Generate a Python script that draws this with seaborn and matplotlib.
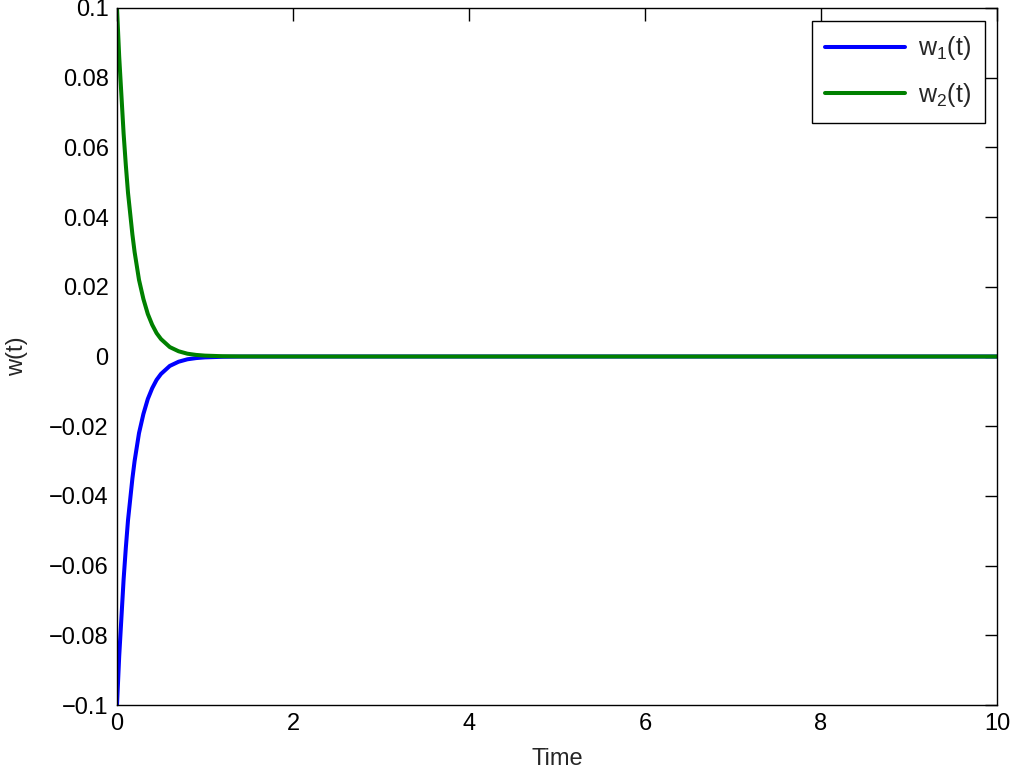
import matplotlib
matplotlib.use("Agg")
import matplotlib.pyplot as plt
import seaborn as sns
import pandas as pd
from matplotlib.ticker import FuncFormatter

# data
time = [0.0, 0.025, 0.05, 0.075, 0.1, 0.125, 0.15, 0.175, 0.2, 0.25, 0.3, 0.35, 0.4,
        0.45, 0.5, 0.6, 0.7, 0.8, 0.9, 1.0, 1.2, 1.4, 1.7, 2.0, 3.0, 5.0, 7.5, 10.0]
w2 = [0.1, 0.086, 0.075, 0.064, 0.055, 0.047, 0.041, 0.035, 0.030, 0.022, 0.0165,
      0.0122, 0.0091, 0.0067, 0.0050, 0.0027, 0.0015, 0.0008, 0.00045, 0.00025,
      0.00008, 0.00002, 0.0, 0.0, 0.0, 0.0, 0.0, 0.0]
w1 = [-0.1, -0.086, -0.075, -0.064, -0.055, -0.047, -0.041, -0.035, -0.030, -0.022,
      -0.0165, -0.0122, -0.0091, -0.0067, -0.0050, -0.0027, -0.0015, -0.0008,
      -0.00045, -0.00025, -0.00008, -0.00002, 0.0, 0.0, 0.0, 0.0, 0.0, 0.0]
series_names = ["$\\mathregular{w_{1}(t)}$", "$\\mathregular{w_{2}(t)}$"]
xticks = [0, 2, 4, 6, 8, 10]
yticks = [-0.1, -0.08, -0.06, -0.04, -0.02, 0, 0.02, 0.04, 0.06, 0.08, 0.1]

df = pd.concat([
    pd.DataFrame({"Time": time, "w": w1, "series": series_names[0]}),
    pd.DataFrame({"Time": time, "w": w2, "series": series_names[1]}),
])

sns.set_style("white")
plt.rcParams["font.family"] = ["Liberation Sans", "DejaVu Sans"]
plt.rcParams["mathtext.fontset"] = "custom"
plt.rcParams["mathtext.rm"] = "Liberation Sans"

fig = plt.figure(figsize=(10.13, 7.70), dpi=100)
ax = fig.add_axes([117 / 1013, 1 - 705 / 770, (997 - 117) / 1013, (705 - 8) / 770])

sns.lineplot(data=df, x="Time", y="w", hue="series", sort=False,
             palette=[(0, 0, 1), (0, 0.5, 0)], linewidth=2.9, ax=ax, estimator=None)

ax.set_xlim(0, 10)
ax.set_ylim(-0.1, 0.1)
ax.set_xticks(xticks)
ax.set_yticks(yticks)
ax.yaxis.set_major_formatter(FuncFormatter(lambda v, p: ("%g" % v).replace("-", "\u2212")))
ax.tick_params(direction="in", length=9, width=1, top=True, right=True,
               labelsize=17, colors="black", pad=6)
for s in ax.spines.values():
    s.set_visible(True)
    s.set_color("black")
    s.set_linewidth(1)
ax.set_xlabel("Time", fontsize=17, labelpad=9)
ax.set_ylabel("w(t)", fontsize=17, labelpad=15)

leg = ax.legend(loc="upper right", fontsize=18, frameon=True, fancybox=False,
                edgecolor="black", handlelength=3.2, borderaxespad=0.5,
                borderpad=0.55, labelspacing=0.75, handletextpad=0.5)
leg.get_frame().set_linewidth(1)
leg.get_frame().set_alpha(1)
for line in leg.get_lines():
    line.set_linewidth(2.9)

fig.savefig("out.png", dpi=100, facecolor="white")
